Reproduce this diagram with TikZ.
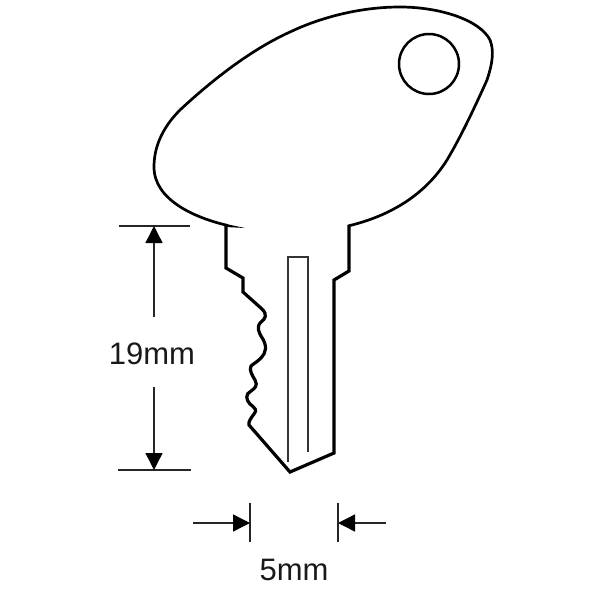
\documentclass[tikz,border=0pt]{standalone}
\usepackage{fontspec}
\setmainfont{Liberation Sans}
\usetikzlibrary{arrows.meta}
\tikzset{
    outline/.style={draw=black,line width=3.2pt,line join=miter},
    dimline/.style={draw=black!85,line width=1.4pt},
    dimarrow/.style={dimline,-{Triangle[length=17pt,width=17pt,color=black]}},
    dimlabel/.style={font=\fontsize{31}{31}\selectfont,text=black!90,inner sep=0pt}
}
\begin{document}
\begin{tikzpicture}[x=1pt,y=-1pt]
            \useasboundingbox (0,0) rectangle (600,600);

            % head
            \draw[outline,line width=2.7pt] (348,226)
                .. controls (390,216) and (425,195) .. (447,160)
                .. controls (462,135) and (478,100) .. (487,80)
                .. controls (493,62) and (494,50) .. (490,40)
                .. controls (480,20) and (440,7) .. (400,7)
                .. controls (355,7) and (315,20) .. (290,32)
                .. controls (250,50) and (210,82) .. (180,110)
                .. controls (160,130) and (154,150) .. (154,167)
                .. controls (154,200) and (195,218) .. (228,225.5);
            \fill (226,224) -- (245,228) -- (226,227) -- cycle;
            \node[shape=circle,draw=black,line width=2.5pt,minimum size=60pt,inner sep=0pt] (hole) at (429,64) {};

            % blade
            \draw[outline] (226,225) -- (226,268) -- (243,278) -- (243,292) -- (262,309)
                .. controls (268,315) and (265,319) .. (261,322)
                .. controls (256,327) and (259,332) .. (261,336)
                .. controls (268,346) and (266,353) .. (261,358)
                .. controls (257,362) and (253,364) .. (251,366)
                .. controls (249,370) and (252,375) .. (255,380)
                .. controls (258,386) and (255,388) .. (251,391)
                .. controls (245,394) and (246,400) .. (250,404)
                .. controls (256,409) and (257,410) .. (254,414)
                .. controls (251,418) and (248,422) .. (249,425)
                -- (290,472) -- (334,453) -- (334,280) -- (349,271) -- (349,225);
            \draw[draw=black!80,line width=1.5pt] (288,462) -- (288,257) -- (308,257) -- (308,452);

            % 19mm
            \node[dimlabel] (len) at (152,354) {19mm};
            \coordinate (lentop) at (154,226);
            \coordinate (lenbot) at (154,470);
            \coordinate (lenup) at (154,317);
            \coordinate (lendown) at (154,387);
            \coordinate (tickA) at (119,226);
            \coordinate (tickB) at (190,226);
            \coordinate (tickC) at (118,470);
            \coordinate (tickD) at (191,470);
            \draw[dimline] (tickA) -- (tickB);
            \draw[dimline] (tickC) -- (tickD);
            \draw[dimarrow] (lenup) -- (lentop);
            \draw[dimarrow] (lendown) -- (lenbot);

            % 5mm
            \node[dimlabel] (wid) at (294,570) {5mm};
            \coordinate (tickE) at (250,503);
            \coordinate (tickF) at (250,542);
            \coordinate (tickG) at (338,503);
            \coordinate (tickH) at (338,542);
            \coordinate (widleft) at (193,523);
            \coordinate (widright) at (386,523);
            \coordinate (widA) at (250,523);
            \coordinate (widB) at (338,523);
            \draw[dimline] (tickE) -- (tickF);
            \draw[dimline] (tickG) -- (tickH);
            \draw[dimarrow] (widleft) -- (widA);
            \draw[dimarrow] (widright) -- (widB);

        \end{tikzpicture}
\end{document}
